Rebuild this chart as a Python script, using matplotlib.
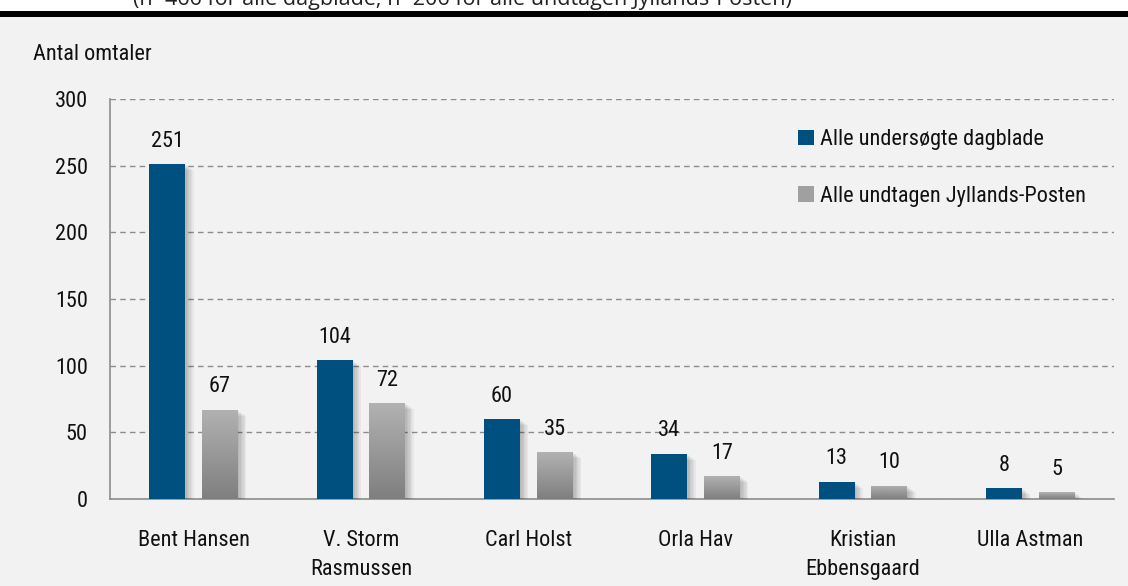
import matplotlib.pyplot as plt
import matplotlib.patheffects as pe
import numpy as np
from matplotlib.colors import LinearSegmentedColormap
from matplotlib.patches import Rectangle

FONTS = ['Roboto Condensed', 'Archivo Narrow', 'PT Sans Narrow', 'DejaVu Sans']
plt.rcParams['font.family'] = FONTS

names = ['Bent Hansen', 'V. Storm\nRasmussen', 'Carl Holst', 'Orla Hav',
         'Kristian\nEbbensgaard', 'Ulla Astman']
alle = [251, 104, 60, 34, 13, 8]
uden_jp = [67, 72, 35, 17, 10, 5]
series_names = ['Alle undersøgte dagblade', 'Alle undtagen Jyllands-Posten']
y_ticks = [0, 50, 100, 150, 200, 250, 300]

BLUE = '#00507f'
BG = '#f2f2f2'
INK = '#111111'
FS = 16

fig = plt.figure(figsize=(11.28, 5.86), dpi=100, facecolor=BG)

# white header strip with the note and a heavy rule under it
fig.patches.append(Rectangle((0, 1 - 11 / 586), 1, 11 / 586, transform=fig.transFigure,
                             facecolor='white', edgecolor='none', zorder=0))
fig.patches.append(Rectangle((0, 1 - 17 / 586), 1, 6 / 586, transform=fig.transFigure,
                             facecolor='black', edgecolor='none', zorder=1))
fig.text(133 / 1128, 1 - 5 / 586,
         '(n=466 for alle dagblade; n=206 for alle undtagen Jyllands-Posten)',
         fontsize=15.5, color='#222222', va='baseline', ha='left',
         family=['Open Sans', 'DejaVu Sans'])

ax = fig.add_axes([110 / 1128, 1 - 499 / 586, 1004 / 1128, 400 / 586])
ax.set_facecolor(BG)

x = np.arange(len(names))
w = 0.215
off = 0.158

shadow = [pe.SimplePatchShadow(offset=(k, -k * 0.7), shadow_rgbFace='black', alpha=0.045)
          for k in (1, 2, 3, 4, 5, 6)] + [pe.Normal()]

b1 = ax.bar(x - off, alle, w, color=BLUE, zorder=3, label=series_names[0])
b2 = ax.bar(x + off, uden_jp, w, color='#a0a0a0', zorder=3, label=series_names[1])
for p in list(b1) + list(b2):
    p.set_path_effects(shadow)

# vertical gradient on the grey bars
grey_cmap = LinearSegmentedColormap.from_list('greys', ['#7f7f7f', '#b2b2b2'])
grad = np.linspace(0, 1, 256).reshape(-1, 1)
for p in b2:
    x0, y0, pw, ph = p.get_x(), p.get_y(), p.get_width(), p.get_height()
    im = ax.imshow(grad, cmap=grey_cmap, extent=(x0, x0 + pw, y0, y0 + ph),
                   origin='lower', aspect='auto', zorder=3.5)
    im.set_clip_path(p)

for bars, vals in ((b1, alle), (b2, uden_jp)):
    for p, v in zip(bars, vals):
        ax.annotate(str(v), (p.get_x() + p.get_width() / 2, v), xytext=(0, 9),
                    textcoords='offset points', ha='center', va='bottom',
                    fontsize=FS, color=INK, zorder=5)

ax.set_xlim(-0.5, len(names) - 0.5)
ax.set_ylim(0, 300)
ax.set_yticks(y_ticks)
ax.set_xticks(x)
ax.set_xticklabels(names, fontsize=FS, color=INK, linespacing=1.55)
ax.tick_params(axis='x', length=0, pad=22)
ax.tick_params(axis='y', length=0, pad=16, labelsize=FS, labelcolor=INK)
ax.yaxis.grid(True, linestyle=(0, (4, 3)), color='#8c8c8c', linewidth=1, zorder=0)
ax.set_axisbelow(True)
for s in ('top', 'right'):
    ax.spines[s].set_visible(False)
for s in ('left', 'bottom'):
    ax.spines[s].set_color('#8c8c8c')
    ax.spines[s].set_linewidth(1.2)

fig.text(33 / 1128, 1 - 55 / 586, 'Antal omtaler', fontsize=FS, color=INK,
         va='center', ha='left')

leg = fig.legend(handles=[b1, b2], labels=series_names, loc='upper left',
                 bbox_to_anchor=(787 / 1128, 1 - 118 / 586), frameon=False,
                 fontsize=FS, handlelength=0.7, handleheight=0.7,
                 handletextpad=0.3, labelspacing=1.6, borderpad=0)
for t in leg.get_texts():
    t.set_color(INK)
for h in leg.legend_handles:
    h.set_path_effects([pe.Normal()])

fig.savefig('out.png', dpi=100, facecolor=BG)
